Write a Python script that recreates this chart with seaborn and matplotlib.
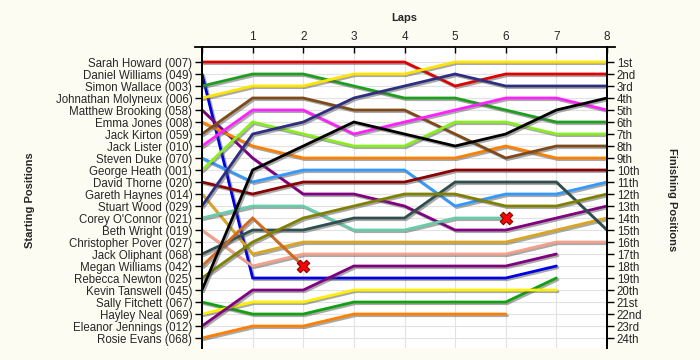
import matplotlib
matplotlib.use("Agg")
import matplotlib.pyplot as plt
import matplotlib.patheffects as pe
import seaborn as sns
import pandas as pd

# ---------------- data ----------------
starting_names = [
    "Sarah Howard (007)", "Daniel Williams (049)", "Simon Wallace (003)",
    "Johnathan Molyneux (006)", "Matthew Brooking (058)", "Emma Jones (008)",
    "Jack Kirton (059)", "Jack Lister (010)", "Steven Duke (070)",
    "George Heath (001)", "David Thorne (020)", "Gareth Haynes (014)",
    "Stuart Wood (029)", "Corey O'Connor (021)", "Beth Wright (019)",
    "Christopher Pover (027)", "Jack Oliphant (068)", "Megan Williams (042)",
    "Rebecca Newton (025)", "Kevin Tanswell (045)", "Sally Fitchett (067)",
    "Hayley Neal (069)", "Eleanor Jennings (012)", "Rosie Evans (068)",
]
finishing_labels = ["1st", "2nd", "3rd", "4th", "5th", "6th", "7th", "8th", "9th",
                    "10th", "11th", "12th", "13th", "14th", "15th", "16th", "17th",
                    "18th", "19th", "20th", "21st", "22nd", "23rd", "24th"]
lap_ticks = [0, 1, 2, 3, 4, 5, 6, 7, 8]

# position of each driver at lap 0..n (lap 0 = starting grid)
sarah_howard = [1, 1, 1, 1, 1, 3, 2, 2, 2]
daniel_williams = [2, 19, 19, 19, 19, 19, 19, 18]
simon_wallace = [3, 2, 2, 3, 4, 4, 5, 6, 6]
johnathan_molyneux = [4, 3, 3, 2, 2, 1, 1, 1, 1]
matthew_brooking = [5, 9, 12, 12, 13, 15, 15, 14, 13]
emma_jones = [6, 8, 9, 9, 9, 9, 8, 9, 9]
jack_kirton = [7, 4, 4, 5, 5, 7, 9, 8, 8]
jack_lister = [8, 5, 5, 7, 6, 5, 4, 4, 5]
steven_duke = [9, 11, 10, 10, 10, 13, 12, 12, 11]
george_heath = [10, 6, 7, 8, 8, 6, 6, 7, 7]
david_thorne = [11, 12, 11, 11, 11, 10, 10, 10, 10]
gareth_haynes = [12, 17, 16, 16, 16, 16, 16, 15, 14]
stuart_wood = [13, 7, 6, 4, 3, 2, 3, 3, 3]
corey_oconnor = [14, 13, 13, 15, 15, 14, 14]
beth_wright = [15, 18, 17, 17, 17, 17, 17, 16, 16]
jack_oliphant = [17, 15, 15, 14, 14, 11, 11, 11, 15]
megan_williams = [18, 14, 18]
rebecca_newton = [19, 16, 14, 13, 12, 12, 13, 13, 12]
kevin_tanswell = [20, 10, 8, 6, 7, 8, 7, 5, 4]
sally_fitchett = [21, 22, 22, 21, 21, 21, 21, 19]
hayley_neal = [22, 21, 21, 20, 20, 20, 20, 20]
eleanor_jennings = [23, 20, 20, 18, 18, 18, 18, 17]
rosie_evans = [24, 23, 23, 22, 22, 22, 22]

retired_drivers = ["Corey O'Connor (021)", "Megan Williams (042)"]

series = [
    ("Sarah Howard (007)", sarah_howard),
    ("Daniel Williams (049)", daniel_williams),
    ("Simon Wallace (003)", simon_wallace),
    ("Johnathan Molyneux (006)", johnathan_molyneux),
    ("Matthew Brooking (058)", matthew_brooking),
    ("Emma Jones (008)", emma_jones),
    ("Jack Kirton (059)", jack_kirton),
    ("Jack Lister (010)", jack_lister),
    ("Steven Duke (070)", steven_duke),
    ("George Heath (001)", george_heath),
    ("David Thorne (020)", david_thorne),
    ("Gareth Haynes (014)", gareth_haynes),
    ("Stuart Wood (029)", stuart_wood),
    ("Corey O'Connor (021)", corey_oconnor),
    ("Beth Wright (019)", beth_wright),
    ("Jack Oliphant (068)", jack_oliphant),
    ("Megan Williams (042)", megan_williams),
    ("Rebecca Newton (025)", rebecca_newton),
    ("Kevin Tanswell (045)", kevin_tanswell),
    ("Sally Fitchett (067)", sally_fitchett),
    ("Hayley Neal (069)", hayley_neal),
    ("Eleanor Jennings (012)", eleanor_jennings),
    ("Rosie Evans (068)", rosie_evans),
]

# ---------------- styles ----------------
colors = {
    "Sarah Howard (007)": "#E00000",
    "Daniel Williams (049)": "#0000E0",
    "Simon Wallace (003)": "#1E9E1E",
    "Johnathan Molyneux (006)": "#FFE400",
    "Matthew Brooking (058)": "#800080",
    "Emma Jones (008)": "#FF8000",
    "Jack Kirton (059)": "#7F4A1A",
    "Jack Lister (010)": "#FF22FF",
    "Steven Duke (070)": "#3399FF",
    "George Heath (001)": "#88EE22",
    "David Thorne (020)": "#8B0000",
    "Gareth Haynes (014)": "#DAA520",
    "Stuart Wood (029)": "#2E2E80",
    "Corey O'Connor (021)": "#66CDAA",
    "Beth Wright (019)": "#F4A08A",
    "Jack Oliphant (068)": "#2F4F4F",
    "Megan Williams (042)": "#D2691E",
    "Rebecca Newton (025)": "#808000",
    "Kevin Tanswell (045)": "#000000",
    "Sally Fitchett (067)": "#10A010",
    "Hayley Neal (069)": "#FFF000",
    "Eleanor Jennings (012)": "#800080",
    "Rosie Evans (068)": "#FF7F00",
}

rows = []
for name, pos in series:
    for lap, p in enumerate(pos):
        rows.append({"driver": name, "lap": lap, "position": p})
df = pd.DataFrame(rows)
ret = pd.DataFrame([{"driver": n, "lap": len(p) - 1, "position": p[-1]}
                    for n, p in series if n in retired_drivers])

sns.set_theme(style="white")
plt.rcParams["font.family"] = ["Liberation Sans", "DejaVu Sans"]

fig = plt.figure(figsize=(7, 3.6), dpi=100, facecolor="#FCFCF2")
ax = fig.add_axes([202 / 700, 1 - 348 / 360, 405 / 700, 301 / 360])
ax.set_facecolor("white")

sns.lineplot(data=df, x="lap", y="position", hue="driver", units="driver",
             estimator=None, sort=False, palette=colors, legend=False,
             linewidth=2.0, ax=ax)
for ln in ax.lines:
    ln.set_path_effects([pe.SimpleLineShadow(offset=(1.2, -1.2), shadow_color="#555555", alpha=0.5),
                         pe.Normal()])
    ln.set_solid_joinstyle("miter")

sns.scatterplot(data=ret, x="lap", y="position", marker="X", s=80,
                color="#FF0000", edgecolor="#880000", linewidth=0.8, zorder=5, ax=ax)

ax.set_xlim(0, 8)
ax.set_ylim(24.83, -0.25)

# grid
ax.set_xticks(lap_ticks)
ax.set_yticks(range(1, 25))
ax.grid(True, color="#E2E2E2", linewidth=0.8)
ax.set_axisbelow(True)

# top axis
ax.xaxis.tick_top()
ax.set_xticklabels([""] + [str(v) for v in lap_ticks[1:]], fontsize=8.5)
ax.tick_params(axis="x", direction="in", length=4, width=1, pad=3, color="black")
ax.set_xlabel("")
fig.text(404 / 700, 1 - 18 / 360, "Laps", ha="center", va="center",
         fontsize=8, fontweight="bold")

# left axis
ax.set_yticklabels(starting_names, fontsize=8.3)
ax.tick_params(axis="y", direction="out", length=5, width=1, pad=2, left=True, color="black")
ax.set_ylabel("")

# right axis
ax2 = ax.twinx()
ax2.set_ylim(ax.get_ylim())
ax2.set_yticks(range(1, 25))
ax2.set_yticklabels(finishing_labels, fontsize=8.3)
ax2.tick_params(axis="y", direction="out", length=5, width=1, pad=2, right=True, color="black")
ax2.grid(False)

for a in (ax, ax2):
    a.spines["bottom"].set_visible(False)
    for s in ("top", "left", "right"):
        a.spines[s].set_color("black")
        a.spines[s].set_linewidth(1.3)
ax.spines["top"].set_bounds(-0.14, 8.16)
ax2.spines["top"].set_visible(False)

fig.text(30 / 700, 1 - 200 / 360, "Starting Positions", rotation=90, ha="center",
         va="center", fontsize=8, fontweight="bold")
fig.text(672 / 700, 1 - 200 / 360, "Finishing Positions", rotation=270, ha="center",
         va="center", fontsize=8, fontweight="bold")

fig.savefig("out.png", dpi=100, facecolor=fig.get_facecolor())
